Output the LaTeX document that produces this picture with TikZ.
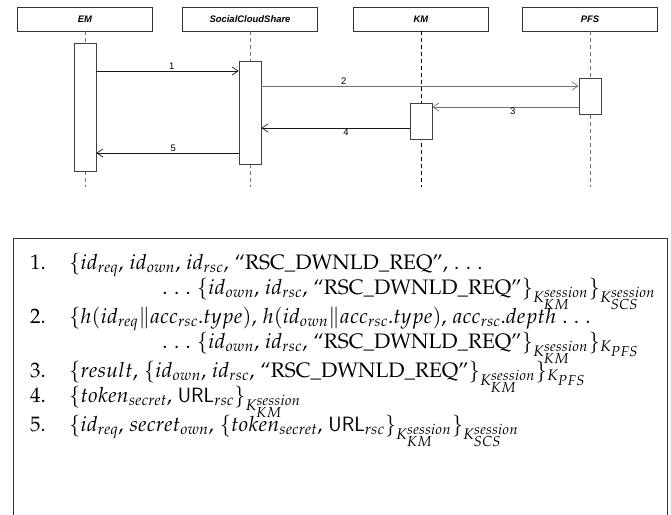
\documentclass[tikz,border=0pt]{standalone}
\usepackage[no-math]{fontspec}
\usepackage{amsmath}
\usepackage{mathpazo}
\usetikzlibrary{arrows.meta}
\DeclareMathSizes{21}{21}{15.5}{14.5}
\newfontfamily\hfont{Liberation Sans}
\newcommand\palfont{\fontencoding{T1}\fontfamily{ppl}\selectfont}
\newcommand\rscq{\text{\palfont ``RSC\_DWNLD\_REQ''}}
\newcommand\ksess[1]{K_{#1}^{session}}
\newcommand\fm[1]{$\thinmuskip=5mu\relax #1$}
\begin{document}
\begin{tikzpicture}[x=1bp,y=-1bp,
  hbox/.style={draw=black!80, line width=0.6bp, minimum width=135bp, minimum height=24bp, inner sep=0pt,
    font=\hfont\bfseries\itshape\fontsize{9.5}{11}\selectfont},
  life/.style={draw=black!55, line width=0.8bp, dash pattern=on 4bp off 3bp},
  act/.style={draw=black!75, fill=white, line width=0.7bp, minimum width=22bp, inner sep=0pt},
  msg/.style={draw=black!90, line width=0.7bp, -{Straight Barb[length=6bp,width=8bp,line width=0.7bp]}},
  msgg/.style={msg, draw=black!55},
  lab/.style={font=\hfont\fontsize{9.5}{11}\selectfont, inner sep=1bp},
  num/.style={anchor=base west, inner sep=0pt, font=\palfont\fontsize{21}{25}\selectfont},
  frm/.style={anchor=base west, inner sep=0pt, font=\palfont\fontsize{21}{25}\selectfont}
]
\useasboundingbox (0,0) rectangle (671,515);
% headers
\node[hbox] (em)  at (85,19)  {EM};
\node[hbox] (scs) at (250,19) {SocialCloudShare};
\node[hbox] (km)  at (421,19) {KM};
\node[hbox] (pfs) at (590,19) {PFS};
% lifeline ends
\coordinate (emend)  at (85,187);
\coordinate (scsend) at (250,187);
\coordinate (kmend)  at (421,187);
\coordinate (pfsend) at (590,187);
\draw[life] (em.south) -- (emend);
\draw[life] (scs.south) -- (scsend);
\draw[life, draw=black] (km.south) -- (kmend);
\draw[life] (pfs.south) -- (pfsend);
% activations
\node[act, minimum height=128bp] (emact)  at (85,107)    {};
\node[act, minimum height=103bp] (scsact) at (250,112.5) {};
\node[act, minimum height=36bp]  (kmact)  at (421,121)   {};
\node[act, minimum height=36bp]  (pfsact) at (590,96)    {};
% messages
\draw[msg]  (emact.east |- 0,71)  -- (scsact.west |- 0,71)  node[lab, pos=0.53, above] {1};
\draw[msgg] (scsact.east |- 0,86) -- (pfsact.west |- 0,86)  node[lab, pos=0.26, above] {2};
\draw[msgg] (pfsact.west |- 0,107) -- (kmact.east |- 0,107) node[lab, pos=0.45, below] {3};
\draw[msg]  (kmact.west |- 0,128) -- (scsact.east |- 0,128) node[lab, pos=0.43, below] {4};
\draw[msg]  (scsact.west |- 0,153) -- (emact.east |- 0,153) node[lab, pos=0.46, above] {5};
% text box
\draw[draw=black!80, line width=0.8bp] (13,530) -- (13,238) -- (667,238) -- (667,530);
% formulas
\node[num] (n1) at (30,269) {1.};
\node[frm] (f1) at (69,269) {\fm{\{id_{req}, id_{own}, id_{rsc}, \rscq, \ldots}};
\node[frm] (f1b) at (162,294) {\fm{\ldots\{id_{own}, id_{rsc}, \rscq\}_{\ksess{KM}}\}_{\ksess{SCS}}}};
\node[num] (n2) at (30,323) {2.};
\node[frm] (f2) at (69,323) {\fm{\{h(id_{req}\|acc_{rsc}.type), h(id_{own}\|acc_{rsc}.type), acc_{rsc}.depth\ldots}};
\node[frm] (f2b) at (162,348) {\fm{\ldots\{id_{own}, id_{rsc}, \rscq\}_{\ksess{KM}}\}_{K_{PFS}}}};
\node[num] (n3) at (30,377) {3.};
\node[frm] (f3) at (69,377) {\fm{\{result, \{id_{own}, id_{rsc}, \rscq\}_{\ksess{KM}}\}_{K_{PFS}}}};
\node[num] (n4) at (30,402) {4.};
\node[frm] (f4) at (69,402) {\fm{\{token_{secret}, \mathsf{URL}_{rsc}\}_{\ksess{KM}}}};
\node[num] (n5) at (30,431) {5.};
\node[frm] (f5) at (69,431) {\fm{\{id_{req}, secret_{own}, \{token_{secret}, \mathsf{URL}_{rsc}\}_{\ksess{KM}}\}_{\ksess{SCS}}}};
\end{tikzpicture}
\end{document}
